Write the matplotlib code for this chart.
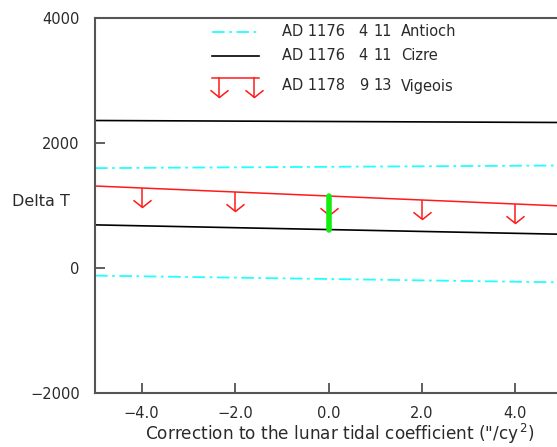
import numpy as np
import matplotlib
matplotlib.use("Agg")
import matplotlib.pyplot as plt
from matplotlib.lines import Line2D
from matplotlib.path import Path

# ---------------- data ----------------
x_ends = [-5.0, 5.0]
antioch_upper = [1598, 1640]
antioch_lower = [-122, -230]
cizre_upper = [2360, 2328]
cizre_lower = [690, 540]

vigeois_x = [-5, -4, -2, 0, 2, 4, 5]
vigeois_y = [1312, 1280, 1216, 1152, 1088, 1024, 992]
arrow_x = [-4, -2, 0, 2, 4]
arrow_top = [1280, 1216, 1152, 1088, 1024]
arrow_len = 300

green_x = [0, 0]
green_y = [610, 1152]

xticks = [-4, -2, 0, 2, 4]
xticklabels = ["\u22124.0", "\u22122.0", "0.0", "2.0", "4.0"]
yticks = [-2000, 0, 2000, 4000]
yticklabels = ["\u22122000", "0", "2000", "4000"]

legend_rows = [
    ("AD 1176", "4", "11", "Antioch"),
    ("AD 1176", "4", "11", "Cizre"),
    ("AD 1178", "9", "13", "Vigeois"),
]

# ---------------- figure ----------------
W, H = 557, 447
fig = plt.figure(figsize=(W / 100, H / 100), dpi=100)
plt.rcParams['font.family'] = ['DejaVu Sans']
FS = 10.5
TXT = '#2a2a2a'

ax_l, ax_r, ax_t, ax_b = 95, 562, 18, 393
ax = fig.add_axes([ax_l / W, 1 - ax_b / H, (ax_r - ax_l) / W, (ax_b - ax_t) / H])
ax.set_xlim(-5, 5)
ax.set_ylim(-2000, 4000)

for s in ['left', 'bottom', 'top', 'right']:
    ax.spines[s].set_color('#555555')
    ax.spines[s].set_linewidth(1.5)

ax.set_xticks(xticks)
ax.set_xticklabels(xticklabels, fontsize=FS, color=TXT)
ax.set_yticks(yticks)
ax.set_yticklabels(yticklabels, fontsize=FS, color=TXT)
ax.tick_params(axis='x', direction='in', length=7, width=1.2, color='#444444', pad=9,
               top=False)
ax.tick_params(axis='y', direction='in', length=7.5, width=1.2, color='#444444', pad=11,
               right=False)

dashdot = (0, (7, 2.5, 1.5, 2.5))
cyan = '#22ffff'
red = '#ff1a1a'

ax.plot(x_ends, antioch_upper, color=cyan, lw=1.3, ls=dashdot)
ax.plot(x_ends, antioch_lower, color=cyan, lw=1.3, ls=dashdot)
ax.plot(x_ends, cizre_upper, color='black', lw=1.2)
ax.plot(x_ends, cizre_lower, color='black', lw=1.2)
ax.plot(vigeois_x, vigeois_y, color=red, lw=1.1)

# arrows (upper limits)
vmark = Path([(-1, 0.8), (0, 0), (1, 0.8)], [Path.MOVETO, Path.LINETO, Path.LINETO])
tops = np.array(arrow_top)
ax.vlines(arrow_x, tops - arrow_len, tops, color=red, lw=1.1)
ax.plot(arrow_x, tops - arrow_len, ls='none', marker=vmark, markersize=13,
        markerfacecolor='none', markeredgecolor=red, markeredgewidth=1.1)

ax.plot(green_x, green_y, color='#11ee11', lw=4, solid_capstyle='round', zorder=5)

# axis labels
fig.text(12 / W, 1 - 201 / H, "Delta T", fontsize=11.5, ha='left', va='center', color=TXT)
fig.text(340 / W, 1 - 434 / H,
         "Correction to the lunar tidal coefficient (\"/cy$^{\\,2}$)",
         fontsize=12.2, ha='center', va='center', color=TXT)

# ---------------- legend ----------------
def fx(px):
    return px / W


def fy(py):
    return 1 - py / H


tf = fig.transFigure
fig.add_artist(Line2D([fx(212), fx(259)], [fy(32), fy(32)], transform=tf,
                      color=cyan, lw=1.3, ls=dashdot))
fig.add_artist(Line2D([fx(212), fx(259)], [fy(56), fy(56)], transform=tf,
                      color='black', lw=1.2))
fig.add_artist(Line2D([fx(212), fx(259)], [fy(78), fy(78)], transform=tf,
                      color=red, lw=1.1))
for ax_px in (219, 254):
    fig.add_artist(Line2D([fx(ax_px), fx(ax_px)], [fy(78), fy(97)], transform=tf,
                          color=red, lw=1.1))
    fig.add_artist(Line2D([fx(ax_px)], [fy(97)], transform=tf, ls='none',
                          marker=vmark, markersize=13, markerfacecolor='none',
                          markeredgecolor=red, markeredgewidth=1.1))

row_y = [32, 56, 86]
for (ad, mo, dy, name), py in zip(legend_rows, row_y):
    fig.text(fx(282), fy(py), ad, fontsize=FS, ha='left', va='center', color=TXT)
    fig.text(fx(368), fy(py), mo, fontsize=FS, ha='right', va='center', color=TXT)
    fig.text(fx(392), fy(py), dy, fontsize=FS, ha='right', va='center', color=TXT)
    fig.text(fx(401), fy(py), name, fontsize=FS, ha='left', va='center', color=TXT)

fig.savefig("out.png", dpi=100)
